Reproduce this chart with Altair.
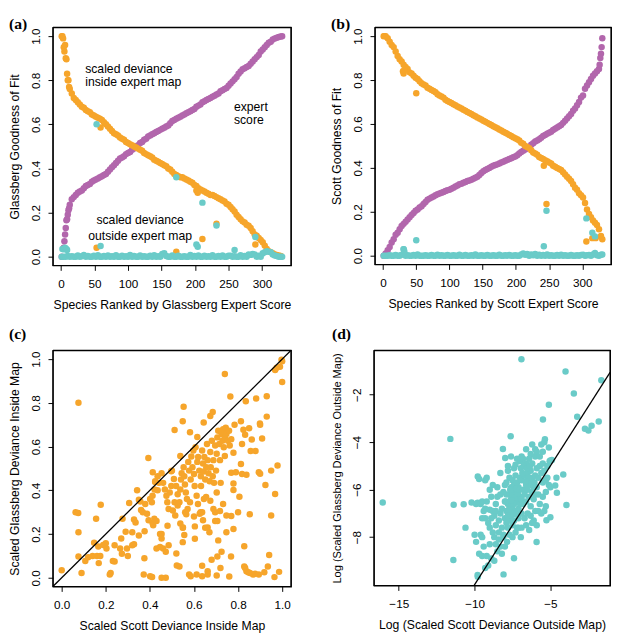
import altair as alt
import pandas as pd

ORANGE = "#F6A52B"
CYAN = "#6ACBC8"
PURPLE = "#B266AC"
FONT = "Liberation Sans"

# ---------------- ranks shared by panels (a) and (b)
rank_grid = list(range(1, 329, 3))

# ---------------- panel (a): Glassberg
a_orange = [1.0, 0.95, 0.90, 0.80, 0.76, 0.74, 0.72, 0.71, 0.70, 0.69,
            0.68, 0.675, 0.665, 0.66, 0.655, 0.645, 0.64, 0.635, 0.63, 0.625,
            0.62, 0.61, 0.60, 0.59, 0.58, 0.57, 0.56, 0.555, 0.55, 0.54,
            0.535, 0.53, 0.52, 0.515, 0.51, 0.505, 0.50, 0.495, 0.49, 0.485,
            0.48, 0.47, 0.465, 0.46, 0.455, 0.45, 0.44, 0.435, 0.43, 0.425,
            0.42, 0.415, 0.41, 0.40, 0.395, 0.385, 0.375, 0.37, 0.365, 0.36,
            0.36, 0.355, 0.35, 0.345, 0.34, 0.335, 0.325, 0.32, 0.31, 0.305,
            0.30, 0.295, 0.29, 0.285, 0.28, 0.28, 0.275, 0.27, 0.265, 0.26,
            0.255, 0.25, 0.24, 0.235, 0.225, 0.215, 0.205, 0.19, 0.18, 0.17,
            0.16, 0.155, 0.145, 0.14, 0.13, 0.115, 0.10, 0.095, 0.085, 0.075,
            0.065, 0.05, 0.035, 0.025, 0.02, 0.015, 0.01, 0.008, 0.005, 0.003]
a_purple = [0.0, 0.04, 0.13, 0.19, 0.235, 0.26, 0.27, 0.28, 0.29, 0.295,
            0.30, 0.31, 0.32, 0.325, 0.33, 0.34, 0.345, 0.35, 0.355, 0.36,
            0.365, 0.37, 0.375, 0.385, 0.395, 0.405, 0.415, 0.425, 0.435, 0.445,
            0.45, 0.455, 0.465, 0.47, 0.475, 0.485, 0.49, 0.50, 0.505, 0.515,
            0.52, 0.53, 0.535, 0.545, 0.55, 0.555, 0.56, 0.565, 0.57, 0.575,
            0.58, 0.585, 0.59, 0.595, 0.605, 0.615, 0.62, 0.625, 0.63, 0.635,
            0.64, 0.645, 0.65, 0.655, 0.66, 0.665, 0.67, 0.68, 0.685, 0.69,
            0.70, 0.705, 0.71, 0.715, 0.72, 0.725, 0.73, 0.735, 0.74, 0.75,
            0.755, 0.76, 0.765, 0.775, 0.785, 0.795, 0.805, 0.815, 0.83, 0.84,
            0.85, 0.855, 0.86, 0.865, 0.875, 0.885, 0.895, 0.905, 0.915, 0.93,
            0.94, 0.95, 0.96, 0.97, 0.975, 0.985, 0.99, 0.993, 0.996, 0.999]
a_cyan = [0.0, 0.0, 0.0, 0.003, 0.0, 0.002, 0.0, 0.0, 0.005, 0.0,
          0.002, 0.008, 0.0, 0.003, 0.0, 0.0, 0.004, 0.0, 0.006, 0.0,
          0.0, 0.003, 0.0, 0.005, 0.0, 0.002, 0.0, 0.006, 0.0, 0.0,
          0.004, 0.0, 0.002, 0.0, 0.008, 0.0, 0.003, 0.0, 0.0, 0.005,
          0.0, 0.002, 0.0, 0.0, 0.004, 0.0, 0.006, 0.0, 0.002, 0.0,
          0.012, 0.015, 0.003, 0.0, 0.0, 0.005, 0.0, 0.0, 0.004, 0.0,
          0.0, 0.002, 0.0, 0.0, 0.008, 0.0, 0.003, 0.0, 0.005, 0.0,
          0.0, 0.004, 0.0, 0.002, 0.0, 0.006, 0.0, 0.0, 0.003, 0.0,
          0.005, 0.0, 0.0, 0.004, 0.004, 0.0, 0.002, 0.0, 0.0, 0.006,
          0.0, 0.003, 0.0, 0.01, 0.008, 0.012, 0.01, 0.0, 0.004, 0.0,
          0.015, 0.02, 0.025, 0.022, 0.02, 0.01, 0.005, 0.003, 0.0, 0.0]
a_orange_x_rank = [2, 3, 5, 6, 8, 9, 11, 12, 53, 59, 172, 202, 204, 211, 232, 290]
a_orange_x_val = [1.0, 0.99, 0.93, 0.96, 0.895, 0.83, 0.80, 0.77, 0.04, 0.586,
                  0.022, 0.30, 0.29, 0.08, 0.149, 0.055]
a_purple_x_rank = [5, 6, 8, 9, 11, 12, 330]
a_purple_x_val = [0.07, 0.10, 0.165, 0.17, 0.21, 0.22, 1.0]
a_cyan_x_rank = [2, 4, 6, 8, 9, 53, 59, 172, 202, 204, 211, 232, 290, 259, 330]
a_cyan_x_val = [0.035, 0.033, 0.04, 0.035, 0.03, 0.601, 0.048, 0.36, 0.055, 0.045,
                0.245, 0.141, 0.089, 0.03, 0.0]

# ---------------- panel (b): Scott
b_orange = [1.0, 1.0, 0.99, 0.975, 0.96, 0.95, 0.93, 0.91, 0.895, 0.885,
            0.87, 0.86, 0.85, 0.835, 0.83, 0.82, 0.81, 0.805, 0.795, 0.785,
            0.78, 0.775, 0.765, 0.76, 0.755, 0.75, 0.745, 0.735, 0.73, 0.725,
            0.72, 0.71, 0.705, 0.70, 0.695, 0.69, 0.685, 0.68, 0.675, 0.67,
            0.665, 0.66, 0.655, 0.65, 0.645, 0.64, 0.635, 0.63, 0.625, 0.62,
            0.615, 0.61, 0.605, 0.60, 0.595, 0.59, 0.585, 0.58, 0.575, 0.57,
            0.565, 0.56, 0.555, 0.55, 0.545, 0.54, 0.535, 0.53, 0.525, 0.515,
            0.51, 0.50, 0.495, 0.49, 0.48, 0.47, 0.465, 0.46, 0.45, 0.445,
            0.44, 0.435, 0.43, 0.425, 0.42, 0.41, 0.405, 0.40, 0.395, 0.39,
            0.38, 0.37, 0.36, 0.35, 0.34, 0.325, 0.31, 0.30, 0.285, 0.275,
            0.265, 0.24, 0.21, 0.19, 0.175, 0.16, 0.15, 0.14, 0.12, 0.09]
b_purple = [0.0, 0.01, 0.025, 0.04, 0.06, 0.075, 0.095, 0.105, 0.12, 0.135,
            0.145, 0.155, 0.165, 0.175, 0.185, 0.195, 0.205, 0.21, 0.22, 0.225,
            0.235, 0.245, 0.255, 0.26, 0.265, 0.27, 0.275, 0.28, 0.283, 0.287,
            0.29, 0.295, 0.298, 0.30, 0.305, 0.31, 0.315, 0.32, 0.325, 0.328,
            0.332, 0.336, 0.34, 0.343, 0.346, 0.35, 0.355, 0.36, 0.368, 0.377,
            0.385, 0.39, 0.395, 0.40, 0.405, 0.41, 0.413, 0.416, 0.42, 0.424,
            0.428, 0.432, 0.436, 0.44, 0.444, 0.448, 0.452, 0.458, 0.465, 0.472,
            0.478, 0.484, 0.49, 0.495, 0.505, 0.512, 0.52, 0.525, 0.53, 0.537,
            0.545, 0.55, 0.555, 0.56, 0.565, 0.572, 0.578, 0.584, 0.59, 0.595,
            0.605, 0.615, 0.625, 0.635, 0.645, 0.66, 0.67, 0.685, 0.70, 0.72,
            0.73, 0.76, 0.775, 0.79, 0.805, 0.82, 0.83, 0.84, 0.85, 0.92]
b_cyan = [0.0, 0.0, 0.0, 0.002, 0.0, 0.0, 0.003, 0.0, 0.0, 0.004,
          0.03, 0.0, 0.002, 0.0, 0.0, 0.003, 0.0, 0.006, 0.0, 0.0,
          0.0, 0.002, 0.0, 0.0, 0.003, 0.0, 0.0, 0.004, 0.0, 0.002,
          0.0, 0.0, 0.003, 0.0, 0.0, 0.002, 0.0, 0.0, 0.004, 0.0,
          0.0, 0.003, 0.0, 0.0, 0.002, 0.0, 0.005, 0.0, 0.0, 0.002,
          0.0, 0.0, 0.003, 0.0, 0.0, 0.002, 0.0, 0.0, 0.004, 0.0,
          0.0, 0.002, 0.0, 0.003, 0.0, 0.0, 0.002, 0.0, 0.0, 0.006,
          0.01, 0.004, 0.008, 0.0, 0.006, 0.002, 0.008, 0.0, 0.004, 0.0,
          0.003, 0.0, 0.005, 0.0, 0.002, 0.0, 0.0, 0.003, 0.0, 0.004,
          0.0, 0.002, 0.0, 0.0, 0.003, 0.0, 0.0, 0.002, 0.0, 0.003,
          0.004, 0.0, 0.002, 0.003, 0.0, 0.005, 0.012, 0.002, 0.0, 0.004]
b_orange_x_rank = [2, 30, 31, 32, 50, 242, 246, 306, 315, 320, 330]
b_orange_x_val = [1.0, 0.84, 0.83, 0.845, 0.74, 0.41, 0.235, 0.065, 0.08, 0.08, 0.075]
b_purple_x_rank = [326, 327, 329, 330]
b_purple_x_val = [0.87, 0.90, 0.95, 0.99]
b_cyan_x_rank = [31, 32, 50, 242, 246, 306, 315, 319, 330]
b_cyan_x_val = [0.03, 0.02, 0.07, 0.043, 0.205, 0.17, 0.105, 0.088, 0.005]

# ---------------- panel (c): scaled deviance inside map (Scott, Glassberg)
c_points = [
    (0.0, 0.034), (0.063, 0.30), (0.075, 0.296), (0.076, 0.80), (0.076, 0.208), (0.076, 0.097),
    (0.09, 0.022), (0.107, 0.077), (0.12, 0.094), (0.14, 0.10), (0.16, 0.10), (0.175, 0.10),
    (0.156, 0.27), (0.177, 0.334), (0.147, 0.16), (0.166, 0.143), (0.168, 0.067), (0.188, 0.15),
    (0.2, 0.158), (0.203, 0.134), (0.218, 0.015), (0.222, 0.022), (0.232, 0.077), (0.24, 0.074),
    (0.24, 0.149), (0.27, 0.18), (0.265, 0.134), (0.276, 0.27), (0.273, 0.11), (0.29, 0.21),
    (0.296, 0.134), (0.3, 0.1), (0.306, 0.342), (0.32, 0.149), (0.328, 0.153), (0.328, 0.267),
    (0.335, 0.253), (0.32, 0.208), (0.342, 0.40), (0.35, 0.357), (0.357, 0.349), (0.35, 0.193),
    (0.36, 0.31), (0.368, 0.30), (0.372, 0.015), (0.375, 0.089), (0.376, 0.213), (0.393, 0.548),
    (0.401, 0.007), (0.41, 0.004), (0.413, 0.483), (0.412, 0.25), (0.415, 0.24), (0.424, 0.438),
    (0.42, 0.27), (0.43, 0.26), (0.43, 0.134), (0.435, 0.40), (0.446, 0.2), (0.453, 0.2),
    (0.453, 0.18), (0.446, 0.141), (0.46, 0.134), (0.453, 0.0), (0.472, 0.0), (0.472, 0.119),
    (0.48, 0.238), (0.485, 0.149), (0.497, 0.487), (0.512, 0.676), (0.512, 0.345), (0.52, 0.111),
    (0.522, 0.056), (0.534, 0.052), (0.538, 0.557), (0.549, 0.716), (0.553, 0.782), (0.549, 0.163),
    (0.55, 0.23), (0.56, 0.30), (0.565, 0.29), (0.578, 0.015), (0.585, 0.007), (0.582, 0.345),
    (0.582, 0.665), (0.6, 0.28), (0.604, 0.178), (0.604, 0.235), (0.612, 0.015), (0.615, 0.644),
    (0.63, 0.30), (0.637, 0.30), (0.637, 0.007), (0.637, 0.055), (0.644, 0.71), (0.645, 0.36),
    (0.655, 0.37), (0.662, 0.015), (0.662, 0.03), (0.662, 0.23), (0.67, 0.208), (0.674, 0.74),
    (0.68, 0.082), (0.685, 0.758), (0.696, 0.26), (0.706, 0.26), (0.696, 0.30), (0.703, 0.01),
    (0.706, 0.097), (0.71, 0.171), (0.72, 0.045), (0.725, 0.119), (0.74, 0.932), (0.74, 0.557),
    (0.747, 0.208), (0.76, 0.006), (0.765, 0.829), (0.769, 0.282), (0.768, 0.097), (0.769, 0.48),
    (0.779, 0.431), (0.779, 0.401), (0.779, 0.223), (0.779, 0.572), (0.784, 0.70), (0.79, 0.483),
    (0.8, 0.30), (0.806, 0.371), (0.813, 0.716), (0.813, 0.52), (0.818, 0.475), (0.818, 0.612),
    (0.828, 0.144), (0.828, 0.052), (0.832, 0.045), (0.838, 0.03), (0.846, 0.025), (0.854, 0.022),
    (0.835, 0.807), (0.838, 0.471), (0.824, 0.677), (0.832, 0.654), (0.85, 0.684), (0.853, 0.29),
    (0.857, 0.58), (0.862, 0.632), (0.868, 0.015), (0.877, 0.018), (0.879, 0.58), (0.882, 0.82),
    (0.894, 0.483), (0.894, 0.015), (0.899, 0.706), (0.9, 0.70), (0.9, 0.476), (0.909, 0.637),
    (0.919, 0.025), (0.924, 0.424), (0.93, 0.83), (0.93, 0.737), (0.935, 0.052), (0.941, 0.104),
    (0.95, 0.49), (0.95, 0.285), (0.968, 0.383), (0.968, 0.95), (0.975, 0.96), (0.99, 0.965),
    (0.997, 0.997), (1.0, 0.99), (0.965, 0.003), (0.979, 0.513), (0.986, 0.027), (1.0, 0.895),
    (0.379, 0.337), (0.387, 0.293), (0.394, 0.263), (0.401, 0.36), (0.409, 0.345), (0.412, 0.375),
    (0.421, 0.404), (0.424, 0.441), (0.435, 0.464), (0.441, 0.434), (0.453, 0.478), (0.46, 0.434),
    (0.468, 0.404), (0.475, 0.375), (0.479, 0.345), (0.485, 0.315), (0.49, 0.39), (0.497, 0.42),
    (0.5, 0.49), (0.509, 0.452), (0.519, 0.42), (0.526, 0.382), (0.526, 0.33), (0.534, 0.345),
    (0.538, 0.404), (0.541, 0.449), (0.544, 0.478), (0.553, 0.505), (0.556, 0.464), (0.559, 0.427),
    (0.563, 0.39), (0.568, 0.36), (0.571, 0.315), (0.574, 0.53), (0.578, 0.49), (0.585, 0.449),
    (0.588, 0.555), (0.593, 0.505), (0.597, 0.582), (0.6, 0.475), (0.603, 0.42), (0.607, 0.597),
    (0.612, 0.375), (0.615, 0.53), (0.619, 0.552), (0.624, 0.49), (0.631, 0.464), (0.632, 0.42),
    (0.637, 0.582), (0.641, 0.523), (0.644, 0.486), (0.647, 0.552), (0.651, 0.449), (0.656, 0.505),
    (0.659, 0.612), (0.662, 0.538), (0.666, 0.478), (0.671, 0.441), (0.674, 0.575), (0.676, 0.505),
    (0.681, 0.627), (0.685, 0.464), (0.688, 0.538), (0.691, 0.434), (0.696, 0.605), (0.70, 0.49),
    (0.703, 0.567), (0.706, 0.642), (0.71, 0.672), (0.715, 0.612), (0.718, 0.538), (0.721, 0.434),
    (0.725, 0.657), (0.729, 0.627), (0.732, 0.679), (0.735, 0.597), (0.74, 0.642), (0.744, 0.686),
    (0.747, 0.657), (0.754, 0.627), (0.759, 0.672), (0.762, 0.605), (0.769, 0.634),
    (0.504, 0.308), (0.515, 0.285), (0.538, 0.248), (0.549, 0.229), (0.556, 0.196),
    (0.618, 0.337), (0.626, 0.293), (0.641, 0.263), (0.651, 0.229), (0.674, 0.352),
    (0.688, 0.315), (0.703, 0.39), (0.718, 0.305), (0.732, 0.337), (0.747, 0.285),
]

# ---------------- panel (d): log scaled deviance outside map (Scott, Glassberg)
d_points = [
    (-6.91, -0.5), (-4.0, -1.02), (-3.45, -1.95), (-1.64, -1.39), (-5.1, -2.42), (-5.49, -3.04),
    (-3.23, -2.93), (-2.72, -3.43), (-2.49, -3.51), (-2.28, -3.31), (-1.81, -3.13),
    (-11.6, -3.86), (-7.62, -3.75), (-16.06, -6.54), (-11.38, -6.64), (-11.4, -8.96),
    (-10.6, -7.6), (-8.09, -9.57), (-9.79, -9.67), (-7.4, -8.89), (-5.91, -8.21),
    (-4.15, -5.36), (-4.68, -5.82), (-4.57, -6.13), (-3.94, -6.65), (-5.26, -7.29), (-5.0, -7.16),
    (-5.0, -4.77), (-5.1, -4.22), (-5.36, -3.88), (-5.4, -4.0), (-8.13, -4.29), (-7.98, -4.67),
    (-9.79, -5.45), (-9.7, -5.55), (-10.72, -6.61), (-10.2, -6.54), (-9.9, -6.6), (-10.0, -7.9),
    (-9.9, -8.2), (-9.5, -8.8), (-9.3, -9.3), (-5.05, -4.8), (-4.9, -4.75), (-4.6, -5.5),
    (-6.0, -4.3), (-6.3, -4.5), (-6.9, -4.6), (-6.6, -4.3), (-6.2, -4.1),
    (-9.8, -6.55), (-9.6, -6.6), (-9.5, -6.5), (-9.4, -6.9), (-9.3, -7.2), (-9.6, -7.9),
    (-9.5, -8.0), (-9.7, -8.7), (-9.4, -8.4), (-9.2, -8.8), (-9.1, -9.2), (-9.3, -6.8),
    (-9.2, -6.5), (-9.0, -6.85), (-9.1, -7.4), (-9.0, -7.6), (-9.3, -5.6), (-9.2, -5.5),
    (-9.0, -6.0), (-9.5, -7.2), (-9.8, -9.6), (-9.0, -8.3),
    (-8.9, -6.3), (-8.8, -6.9), (-8.7, -7.1), (-8.6, -6.6), (-8.5, -6.3), (-8.4, -7.3),
    (-8.3, -7.0), (-8.2, -6.8), (-8.9, -7.2), (-8.8, -7.8), (-8.7, -8.0), (-8.6, -8.3),
    (-8.5, -8.6), (-8.4, -8.1), (-8.3, -8.4), (-8.2, -8.7), (-8.1, -8.0), (-8.0, -8.4),
    (-8.9, -8.9), (-8.7, -9.0), (-8.8, -5.8), (-8.5, -5.9), (-8.3, -5.3), (-8.1, -6.1),
    (-8.0, -6.5), (-8.0, -7.2), (-8.2, -7.6), (-8.4, -7.8), (-8.6, -7.5), (-8.1, -7.9),
    (-8.3, -6.2), (-8.6, -6.9), (-8.0, -5.8),
    (-7.9, -6.2), (-7.8, -6.6), (-7.7, -7.0), (-7.6, -6.4), (-7.5, -6.8), (-7.4, -6.1),
    (-7.3, -6.5), (-7.2, -6.9), (-7.1, -5.9), (-7.0, -6.3), (-7.9, -7.4), (-7.8, -7.6),
    (-7.7, -7.3), (-7.6, -7.1), (-7.5, -7.5), (-7.4, -7.3), (-7.3, -7.0), (-7.2, -7.6),
    (-7.1, -7.2), (-7.0, -7.0), (-7.9, -5.7), (-7.8, -5.2), (-7.7, -5.5), (-7.6, -5.9),
    (-7.5, -5.6), (-7.4, -5.8), (-7.3, -5.4), (-7.2, -5.7), (-7.1, -6.5), (-7.0, -5.5),
    (-7.9, -6.9), (-7.8, -7.1), (-7.7, -6.2), (-7.6, -6.7), (-7.5, -6.2), (-7.4, -6.6),
    (-7.3, -6.0), (-7.2, -6.3), (-7.1, -6.8), (-7.0, -6.6), (-7.85, -8.2), (-7.7, -7.9),
    (-7.5, -8.0), (-7.3, -7.8), (-7.1, -7.6), (-7.6, -4.6), (-7.2, -4.7), (-7.0, -4.8),
    (-7.8, -5.0), (-7.4, -5.1), (-7.65, -6.0), (-7.35, -6.35), (-7.15, -6.15), (-7.55, -6.45),
    (-7.25, -5.95), (-7.45, -7.05), (-7.05, -6.0), (-7.95, -6.5), (-7.75, -6.85), (-7.3, -4.95),
    (-6.9, -5.6), (-6.8, -6.0), (-6.7, -5.4), (-6.6, -5.8), (-6.5, -5.3), (-6.4, -5.7),
    (-6.3, -5.2), (-6.2, -5.5), (-6.1, -5.9), (-6.0, -5.4), (-6.9, -6.4), (-6.8, -6.6),
    (-6.7, -6.2), (-6.6, -6.5), (-6.5, -6.0), (-6.4, -6.3), (-6.3, -6.7), (-6.2, -6.1),
    (-6.1, -6.4), (-6.0, -6.2), (-6.9, -7.0), (-6.7, -7.2), (-6.5, -7.0), (-6.3, -7.1),
    (-6.1, -7.3), (-6.8, -4.7), (-6.6, -4.9), (-6.4, -4.7), (-6.2, -4.9), (-6.0, -4.6),
    (-6.95, -5.1), (-6.75, -5.0), (-6.55, -5.1), (-6.35, -5.0), (-6.85, -5.3), (-6.45, -5.5),
    (-6.65, -5.65), (-6.25, -5.8), (-6.05, -5.7), (-6.9, -7.6), (-6.6, -7.5), (-6.4, -7.7),
    (-6.2, -7.4), (-6.0, -6.9), (-6.95, -8.0),
    (-5.9, -5.1), (-5.8, -5.5), (-5.7, -5.0), (-5.6, -5.3), (-5.5, -4.9), (-5.4, -5.2),
    (-5.3, -5.6), (-5.2, -5.5), (-5.9, -5.9), (-5.8, -6.2), (-5.7, -6.6), (-5.5, -6.3),
    (-5.3, -6.1), (-5.9, -4.4), (-5.7, -4.6), (-5.5, -4.4), (-5.6, -4.1), (-5.8, -6.9),
    (-5.6, -7.0), (-5.4, -6.9), (-5.9, -7.5), (-5.5, -5.7), (-5.2, -5.0), (-5.1, -5.8),
    (-5.0, -5.9), (-5.3, -6.7),
]

# ---------------- helpers
A_X_DOM = [-12.2, 343.2]
U_DOM = [-0.04, 1.04]
D_X_DOM = [-16.64, -1.06]
D_Y_DOM = [-10.04, -0.13]
PT = 44


def xaxis(values, title, fmt):
    return alt.Axis(values=values, title=title, format=fmt, grid=False, domain=False,
                    ticks=True, tickColor="black", tickSize=5, tickWidth=1,
                    labelFont=FONT, labelFontSize=12, labelColor="black", labelPadding=9,
                    labelFlush=False, labelOverlap=False,
                    titleFont=FONT, titleFontSize=12.5, titleFontWeight="normal",
                    titleColor="black", titlePadding=9)


def yaxis(values, title, fmt, tsize=12.5):
    return alt.Axis(values=values, title=title, format=fmt, grid=False, domain=False,
                    ticks=True, tickColor="black", tickSize=5, tickWidth=1,
                    labelFont=FONT, labelFontSize=12, labelColor="black", labelPadding=6,
                    labelAngle=270, labelFlush=False, labelOverlap=False,
                    titleFont=FONT, titleFontSize=tsize, titleFontWeight="normal",
                    titleColor="black", titlePadding=8)


def letter_title(txt, off):
    return alt.TitleParams(txt, anchor="start", frame="bounds", font="Liberation Serif",
                           fontSize=16, fontWeight="bold", color="black", offset=off)


def panel(point_sets, xdom, ydom, xax, yax, w, h, title, diagonal=None, notes=None):
    xs = dict(scale=alt.Scale(domain=xdom, nice=False, zero=False), axis=xax)
    ys = dict(scale=alt.Scale(domain=ydom, nice=False, zero=False), axis=yax)
    layers = []
    for df, color in point_sets:
        layers.append(alt.Chart(df).mark_circle(size=PT, opacity=1, color=color,
                                                clip=True).encode(
            x=alt.X("sx:Q", **xs), y=alt.Y("gy:Q", **ys)))
    if diagonal is not None:
        layers.append(alt.Chart(diagonal).mark_line(color="black", strokeWidth=1.3,
                                                    clip=True).encode(
            x=alt.X("sx:Q", **xs), y=alt.Y("gy:Q", **ys)))
    if notes is not None:
        for align, nd in notes:
            layers.append(alt.Chart(nd).mark_text(font=FONT, fontSize=12.5, color="black",
                                                  align=align, baseline="middle").encode(
                x=alt.X("sx:Q", **xs), y=alt.Y("gy:Q", **ys), text="t:N"))
    x0, x1 = xdom
    y0, y1 = ydom
    box = pd.DataFrame({"sx": [x0, x1, x1, x0, x0], "gy": [y1, y1, y0, y0, y1],
                        "k": [0, 1, 2, 3, 4]})
    layers.append(alt.Chart(box).mark_line(color="black", strokeWidth=1.2).encode(
        x=alt.X("sx:Q", **xs), y=alt.Y("gy:Q", **ys), order="k:Q"))
    return alt.layer(*layers).properties(width=w, height=h, title=title)


def series(ranks, values):
    return pd.DataFrame({"sx": ranks, "gy": values})


rank_ticks = [0, 50, 100, 150, 200, 250, 300]
unit_ticks = [0, 0.2, 0.4, 0.6, 0.8, 1.0]

notes_a = [
    ("left", pd.DataFrame({"sx": [36, 36, 258, 258],
                           "gy": [0.851, 0.792, 0.68, 0.618],
                           "t": ["scaled deviance", "inside expert map", "expert", "score"]})),
    ("center", pd.DataFrame({"sx": [118, 118], "gy": [0.164, 0.092],
                             "t": ["scaled deviance", "outside expert map"]})),
]

panel_a = panel(
    [(series(rank_grid + a_purple_x_rank, a_purple + a_purple_x_val), PURPLE),
     (series(rank_grid + a_orange_x_rank, a_orange + a_orange_x_val), ORANGE),
     (series(rank_grid + a_cyan_x_rank, a_cyan + a_cyan_x_val), CYAN)],
    A_X_DOM, U_DOM,
    xaxis(rank_ticks, "Species Ranked by Glassberg Expert Score", "d"),
    yaxis(unit_ticks, "Glassberg Goodness of Fit", ".1f"),
    244, 244, letter_title("(a)", -7), notes=notes_a)

panel_b = panel(
    [(series(rank_grid + b_purple_x_rank, b_purple + b_purple_x_val), PURPLE),
     (series(rank_grid + b_orange_x_rank, b_orange + b_orange_x_val), ORANGE),
     (series(rank_grid + b_cyan_x_rank, b_cyan + b_cyan_x_val), CYAN)],
    A_X_DOM, U_DOM,
    xaxis(rank_ticks, "Species Ranked by Scott Expert Score", "d"),
    yaxis(unit_ticks, "Scott Goodness of Fit", ".1f"),
    242, 243, letter_title("(b)", -7))

panel_c = panel(
    [(pd.DataFrame(c_points, columns=["sx", "gy"]), ORANGE)],
    U_DOM, U_DOM,
    xaxis(unit_ticks, "Scaled Scott Deviance Inside Map", ".1f"),
    yaxis(unit_ticks, "Scaled Glassberg Deviance Inside Map", ".1f"),
    244, 242, letter_title("(c)", 6),
    diagonal=pd.DataFrame({"sx": U_DOM, "gy": U_DOM}))

d_lo = max(D_X_DOM[0], D_Y_DOM[0])
d_hi = min(D_X_DOM[1], D_Y_DOM[1])
panel_d = panel(
    [(pd.DataFrame(d_points, columns=["sx", "gy"]), CYAN)],
    D_X_DOM, D_Y_DOM,
    xaxis([-15, -10, -5], "Log (Scaled Scott Deviance Outside Map)", "d"),
    yaxis([-8, -6, -4, -2], "Log (Scaled Glassberg Deviance Outside Map)", "d", 11.3),
    242, 241, letter_title("(d)", 6),
    diagonal=pd.DataFrame({"sx": [d_lo, d_hi], "gy": [d_lo, d_hi]}))

chart = alt.vconcat(
    alt.hconcat(panel_a, panel_b, spacing=37),
    alt.hconcat(panel_c, panel_d, spacing=38),
    spacing=14,
).properties(padding=0, background="white").configure_view(stroke="black", strokeWidth=1.2)

chart.save("out.html", embed_options={"renderer": "svg", "actions": False})
